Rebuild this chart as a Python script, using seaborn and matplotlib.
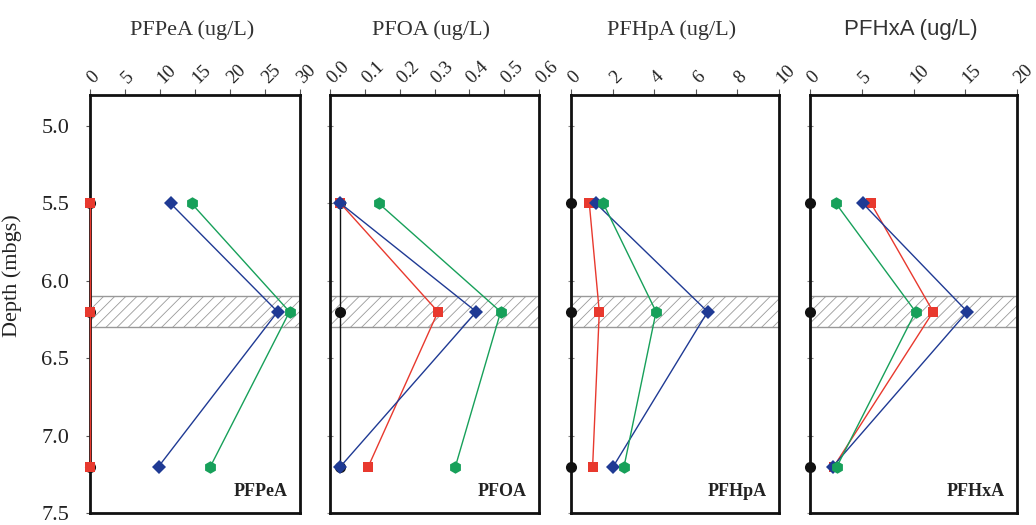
import matplotlib
matplotlib.use("Agg")
import matplotlib.pyplot as plt
import seaborn as sns
import pandas as pd

# ---------------- data ----------------
depths = [5.5, 6.2, 7.2]
series_names = ["Black", "Red", "Blue", "Green"]
series_colors = ["#111111", "#E8392E", "#1F3A94", "#17A05A"]
series_markers = ["o", "s", "D", "h"]

panel_titles = ["PFPeA (ug/L)", "PFOA (ug/L)", "PFHpA (ug/L)", "PFHxA (ug/L)"]
panel_labels = ["PFPeA", "PFOA", "PFHpA", "PFHxA"]
x_max = [30, 0.6, 10, 20]
x_steps = [5, 0.1, 2, 5]
x_ticklabels = [
    ["0", "5", "10", "15", "20", "25", "30"],
    ["0.0", "0.1", "0.2", "0.3", "0.4", "0.5", "0.6"],
    ["0", "2", "4", "6", "8", "10"],
    ["0", "5", "10", "15", "20"],
]

pfpea_black = [0.0, 0.0, 0.0]
pfpea_red = [0.0, 0.0, 0.0]
pfpea_blue = [11.5, 26.8, 9.8]
pfpea_green = [14.5, 28.5, 17.2]

pfoa_black = [0.03, 0.03, 0.03]
pfoa_red = [0.03, 0.31, 0.11]
pfoa_blue = [0.03, 0.42, 0.03]
pfoa_green = [0.14, 0.49, 0.36]

pfhpa_black = [0.0, 0.0, 0.0]
pfhpa_red = [0.88, 1.36, 1.04]
pfhpa_blue = [1.2, 6.57, 2.03]
pfhpa_green = [1.55, 4.09, 2.55]

pfhxa_black = [0.0, 0.0, 0.0]
pfhxa_red = [5.9, 11.9, 2.3]
pfhxa_blue = [5.1, 15.2, 2.2]
pfhxa_green = [2.5, 10.2, 2.6]

band_top, band_bottom = 6.1, 6.3
y_ticks = [5.0, 5.5, 6.0, 6.5, 7.0, 7.5]
y_ticklabels = ["5.0", "5.5", "6.0", "6.5", "7.0", "7.5"]

panel_values = [
    [pfpea_black, pfpea_red, pfpea_blue, pfpea_green],
    [pfoa_black, pfoa_red, pfoa_blue, pfoa_green],
    [pfhpa_black, pfhpa_red, pfhpa_blue, pfhpa_green],
    [pfhxa_black, pfhxa_red, pfhxa_blue, pfhxa_green],
]

# ---------------- figure ----------------
sns.set_theme(style="white")
plt.rcParams["font.family"] = ["Liberation Serif", "DejaVu Serif"]
plt.rcParams["hatch.linewidth"] = 0.6

W, H = 1036, 525
fig = plt.figure(figsize=(W / 100, H / 100), dpi=100)

panel_px = [(90, 300), (330, 539), (571, 779), (810, 1017)]
top_px, bot_px = 95, 513

palette = dict(zip(series_names, series_colors))
markers = dict(zip(series_names, series_markers))
msize = {"o": 8, "s": 7.5, "D": 7, "h": 9}

for i in range(4):
    l, r = panel_px[i]
    ax = fig.add_axes([l / W, (H - bot_px) / H, (r - l) / W, (bot_px - top_px) / H])
    rows = []
    for name, vals in zip(series_names, panel_values[i]):
        for d, v in zip(depths, vals):
            rows.append({"series": name, "depth": d, "value": v})
    df = pd.DataFrame(rows)

    ax.axhspan(band_top, band_bottom, facecolor="none", edgecolor="#999999",
               hatch="///", linewidth=1.0, zorder=1)

    for name in series_names:
        sub = df[df["series"] == name]
        sns.lineplot(data=sub, x="value", y="depth", orient="y", sort=True,
                     estimator=None, color=palette[name], marker=markers[name],
                     markersize=msize[markers[name]], markeredgewidth=0,
                     linewidth=1.0, ax=ax, legend=False, clip_on=False, zorder=4)

    ax.set_xlim(0, x_max[i])
    ax.set_ylim(7.5, 4.8)
    n = len(x_ticklabels[i])
    ax.set_xticks([k * x_steps[i] for k in range(n)])
    ax.xaxis.tick_top()
    ax.set_xticklabels(x_ticklabels[i], rotation=45, ha="left", va="center",
                       rotation_mode="anchor", fontsize=13.5, color="#222222")
    ax.tick_params(axis="x", which="major", direction="out", length=4, width=0.8,
                   color="#555555", pad=6, top=True, bottom=False)
    ax.set_yticks(y_ticks)
    if i == 0:
        ax.set_yticklabels(y_ticklabels, fontsize=16, color="#222222")
        ax.tick_params(axis="y", direction="out", length=3, width=0.8,
                       color="#555555", pad=12, left=True)
        ax.set_ylabel("Depth (mbgs)", fontsize=16, color="#222222")
        ax.yaxis.set_label_coords(-0.324, 0.568)
    else:
        ax.set_yticklabels([])
        ax.tick_params(axis="y", direction="inout", length=5, width=0.8,
                       color="#888888", left=True)
        ax.set_ylabel("")
    ax.set_xlabel("")
    for s in ax.spines.values():
        s.set_linewidth(2.0)
        s.set_color("#111111")
        s.set_visible(True)
        s.set_zorder(3)

    ax.text(0.94, 0.03, panel_labels[i], transform=ax.transAxes, ha="right",
            va="bottom", fontsize=13, fontweight="bold", color="#222222")

    title_family = ["Liberation Sans", "DejaVu Sans"] if i == 3 else ["Liberation Serif", "DejaVu Serif"]
    fig.text((l + r) / 2 / W - 0.003, 1 - 30 / H, panel_titles[i], ha="center",
             va="center", fontsize=16, color="#333333", family=title_family)

fig.savefig("out.png", dpi=100, facecolor="white")
